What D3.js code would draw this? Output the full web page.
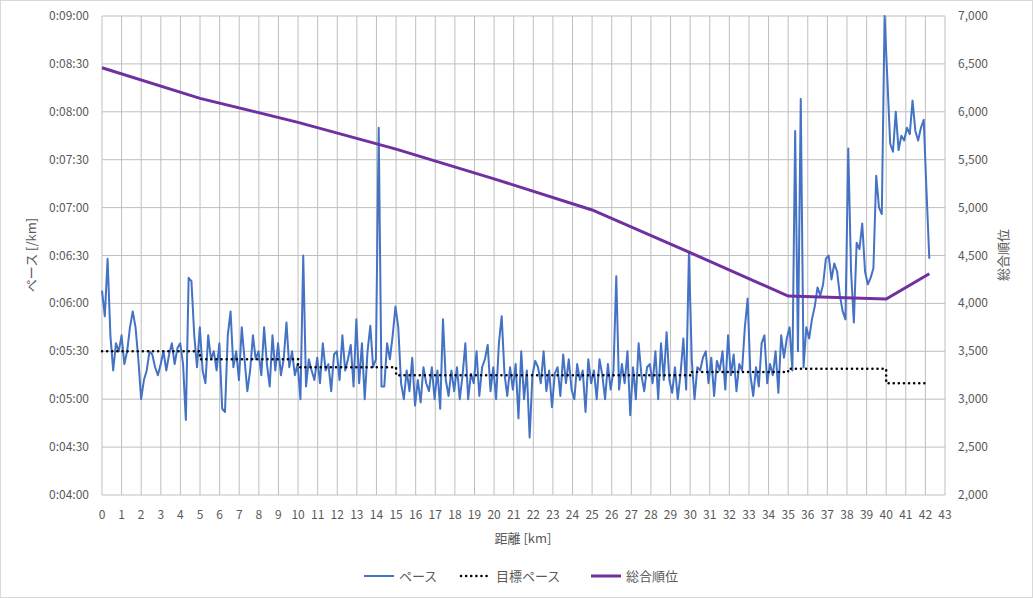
<!DOCTYPE html>
<html><head><meta charset="utf-8">
<script src="https://cdn.jsdelivr.net/npm/d3@7"></script>
<style>body{margin:0;background:#fff}text{font-family:"Noto Sans CJK JP","Noto Sans",sans-serif;fill:#595959}</style>
</head><body><svg id="c" width="1033" height="598"></svg>
<script>
const paceSec = [
368,352,388,340,318,335,330, 340,322,330,345,355,345,325, 300,312,318,330,328,320,315,
322,330,318,328,335,322,332, 335,322,287,376,374,340,320, 345,318,310,340,325,330,318,
335,294,292,340,355,320,330, 312,345,325,305,318,340,325, 330,315,345,322,308,340,318,
335,315,325,348,320,330,315, 322,300,390,308,325,318,312, 326,310,335,318,322,305,328,
330,312,340,318,325,334,308, 350,310,335,300,330,346,320, 325,470,308,308,335,325,340,
358,345,310,300,318,305,326, 296,312,298,320,310,305,320, 300,318,294,350,312,302,318,
305,320,300,315,335,300,316, 310,330,302,320,325,334,305, 320,300,335,352,316,302,320,
306,322,288,330,300,318,276, 315,324,320,310,330,305,318, 295,316,320,302,328,310,325,
306,300,322,312,318,292,325, 310,318,300,325,315,300,322, 306,318,377,306,322,310,330,
290,320,300,335,315,305,320, 322,310,330,300,335,312,342, 312,304,320,300,316,338,306,
392,325,300,320,318,326,330, 310,326,302,324,318,330,306, 340,315,328,305,322,318,345,
363,315,302,320,308,335,340, 310,322,315,330,304,340,326, 338,345,318,468,330,488,320,
345,338,350,358,370,365,372, 388,390,375,385,380,365,355, 350,457,380,348,398,394,410,
380,372,376,382,440,420,416, 540,500,460,455,480,456,465, 462,470,466,487,468,462,470,
475,430,388];
const targetKm = [0,5,5,10,10,15,15,30,30,35,35,40,40,42.2];
const targetSec = [330,330,325,325,320,320,315,315,317,317,319,319,310,310];
const rankKm = [0,5,10,15,20,25,30,35,40,42.2];
const rankVal = [6460,6140,5890,5610,5300,4975,4530,4077,4046,4310];
const xTicks = d3.range(0,44);
const leftTicks = d3.range(240,541,30);
const rightTicks = d3.range(2000,7001,500);

const svg = d3.select("#c");
svg.append("rect").attr("x",0.5).attr("y",0.5).attr("width",1032).attr("height",597).attr("fill","#fff").attr("stroke","#d9d9d9");
const L=102,R=945,T=16,B=495;
const x=d3.scaleLinear().domain([0,43]).range([L,R]);
const y=d3.scaleLinear().domain([240,540]).range([B,T]);
const y2=d3.scaleLinear().domain([2000,7000]).range([B,T]);
const g=svg.append("g");
g.selectAll(".v").data(xTicks).enter().append("line").attr("x1",d=>x(d)).attr("x2",d=>x(d)).attr("y1",T).attr("y2",B).attr("stroke","#bfbfbf");
g.selectAll(".h").data(leftTicks).enter().append("line").attr("x1",L).attr("x2",R).attr("y1",d=>y(d)).attr("y2",d=>y(d)).attr("stroke","#bfbfbf");
const fmt=s=>"0:"+String(Math.floor(s/60)).padStart(2,"0")+":"+String(s%60).padStart(2,"0");
svg.selectAll(".lt").data(leftTicks).enter().append("text").attr("x",L-13).attr("y",d=>y(d)+4).attr("text-anchor","end").attr("font-size",12).text(fmt);
svg.selectAll(".rt").data(rightTicks).enter().append("text").attr("x",R+13).attr("y",d=>y2(d)+4).attr("font-size",12).text(d3.format(","));
svg.selectAll(".xt").data(xTicks).enter().append("text").attr("x",d=>x(d)).attr("y",B+24).attr("text-anchor","middle").attr("font-size",12).text(d=>d);
svg.append("text").attr("transform","translate(36,255) rotate(-90)").attr("text-anchor","middle").attr("font-size",13).text("ペース [/km]");
svg.append("text").attr("transform","translate(1008,255) rotate(-90)").attr("text-anchor","middle").attr("font-size",13).text("総合順位");
svg.append("text").attr("x",523).attr("y",543).attr("text-anchor","middle").attr("font-size",13).text("距離 [km]");
const step=42.2/(paceSec.length-1);
svg.append("path").datum(paceSec).attr("fill","none").attr("stroke","#4472c4").attr("stroke-width",2).attr("stroke-linejoin","round")
 .attr("d",d3.line().x((d,i)=>x(i*step)).y(d=>y(Math.min(d,540))));
svg.append("path").datum(targetKm.map((k,i)=>[k,targetSec[i]])).attr("fill","none").attr("stroke","#000").attr("stroke-width",2.5).attr("stroke-dasharray","0.1,5").attr("stroke-linecap","round")
 .attr("d",d3.line().x(d=>x(d[0])).y(d=>y(d[1])));
svg.append("path").datum(rankKm.map((k,i)=>[k,rankVal[i]])).attr("fill","none").attr("stroke","#7030a0").attr("stroke-width",3)
 .attr("d",d3.line().x(d=>x(d[0])).y(d=>y2(d[1])));
const lg=[["ペース","#4472c4",null,2],["目標ペース","#000","0.1,5",2.5],["総合順位","#7030a0",null,3]];
const lx=[364,461,591];
lg.forEach((e,i)=>{
 svg.append("line").attr("x1",lx[i]).attr("x2",lx[i]+30).attr("y1",576).attr("y2",576).attr("stroke",e[1]).attr("stroke-width",e[3]).attr("stroke-dasharray",e[2]).attr("stroke-linecap",e[2]?"round":"butt");
 svg.append("text").attr("x",lx[i]+35).attr("y",581).attr("font-size",13).text(e[0]);
});
</script></body></html>
